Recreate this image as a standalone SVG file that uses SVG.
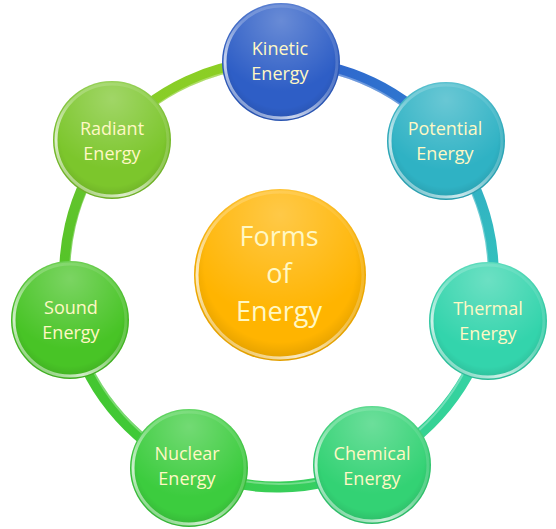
<svg xmlns="http://www.w3.org/2000/svg" width="556" height="529" viewBox="0 0 556 529">
<defs>
<style>
.lbl{font-family:"Open Sans","DejaVu Sans",sans-serif;font-size:18px;fill:#fff8c4;text-anchor:middle}
.big{font-family:"Open Sans","DejaVu Sans",sans-serif;font-size:27px;fill:#fff8c4;text-anchor:middle}
.seg{fill:none;stroke-width:11;stroke-linecap:round}
.rim{fill:none;stroke:url(#rim);stroke-width:3}
.gloss{fill:url(#gloss)}
.shade{fill:url(#shade)}
</style>
<linearGradient id="rim" x1="0.9" y1="0" x2="0.1" y2="1">
<stop offset="0" stop-color="#fff" stop-opacity="0.05"/>
<stop offset="0.45" stop-color="#fff" stop-opacity="0.25"/>
<stop offset="0.75" stop-color="#fff" stop-opacity="0.75"/>
<stop offset="1" stop-color="#fff" stop-opacity="0.2"/>
</linearGradient>
<radialGradient id="gloss" cx="0.5" cy="0.15" r="0.6">
<stop offset="0" stop-color="#fff" stop-opacity="0.28"/>
<stop offset="1" stop-color="#fff" stop-opacity="0"/>
</radialGradient>
<radialGradient id="shade" cx="0.5" cy="0.45" r="0.55">
<stop offset="0.8" stop-color="#000" stop-opacity="0"/>
<stop offset="1" stop-color="#000" stop-opacity="0.12"/>
</radialGradient>
<linearGradient id="g1" gradientUnits="userSpaceOnUse" x1="281" y1="62" x2="446" y2="141"><stop offset="0" stop-color="#2f5fcc"/><stop offset="1" stop-color="#2f7fd0"/></linearGradient>
<linearGradient id="g2" gradientUnits="userSpaceOnUse" x1="446" y1="141" x2="488" y2="321"><stop offset="0" stop-color="#30a8c8"/><stop offset="1" stop-color="#34cab8"/></linearGradient>
<linearGradient id="g3" gradientUnits="userSpaceOnUse" x1="488" y1="321" x2="371" y2="465"><stop offset="0" stop-color="#34d2b0"/><stop offset="1" stop-color="#34d284"/></linearGradient>
<linearGradient id="g4" gradientUnits="userSpaceOnUse" x1="371" y1="465" x2="189" y2="468"><stop offset="0" stop-color="#34d070"/><stop offset="1" stop-color="#3ccc40"/></linearGradient>
<linearGradient id="g5" gradientUnits="userSpaceOnUse" x1="189" y1="468" x2="70" y2="320"><stop offset="0" stop-color="#3ccc3c"/><stop offset="1" stop-color="#48c42c"/></linearGradient>
<linearGradient id="g6" gradientUnits="userSpaceOnUse" x1="70" y1="320" x2="112" y2="140"><stop offset="0" stop-color="#4cc428"/><stop offset="1" stop-color="#6cc42c"/></linearGradient>
<linearGradient id="g7" gradientUnits="userSpaceOnUse" x1="112" y1="140" x2="281" y2="62"><stop offset="0" stop-color="#84cc2c"/><stop offset="1" stop-color="#90d020"/></linearGradient>
</defs>
<rect width="556" height="529" fill="#fff"/>
<g id="connectors">
<path class="seg" stroke="url(#g1)" d="M281 62 A212 212 0 0 1 446 141"/>
<path class="seg" stroke="url(#g2)" d="M446 141 A212 212 0 0 1 488 321"/>
<path class="seg" stroke="url(#g3)" d="M488 321 A212 212 0 0 1 371 465"/>
<path class="seg" stroke="url(#g4)" d="M371 465 A212 212 0 0 1 189 468"/>
<path class="seg" stroke="url(#g5)" d="M189 468 A212 212 0 0 1 70 320"/>
<path class="seg" stroke="url(#g6)" d="M70 320 A212 212 0 0 1 112 140"/>
<path class="seg" stroke="url(#g7)" d="M112 140 A212 212 0 0 1 281 62"/>
<circle cx="279" cy="275" r="209" fill="none" stroke="#fff" stroke-opacity="0.3" stroke-width="2"/>
</g>
<g id="center">
<circle cx="280" cy="275" r="86" fill="#ffb400"/>
<circle cx="280" cy="275" r="86" class="gloss"/>
<circle cx="280" cy="275" r="86" class="shade"/>
<circle cx="280" cy="275" r="83" class="rim"/>
<text class="big" x="279" y="246">Forms</text>
<text class="big" x="279" y="283">of</text>
<text class="big" x="279" y="321">Energy</text>
</g>
<g id="kinetic">
<circle cx="281" cy="62" r="59" fill="#2e5ec6"/>
<circle cx="281" cy="62" r="59" class="gloss"/>
<circle cx="281" cy="62" r="59" class="shade"/>
<circle cx="281" cy="62" r="56" class="rim"/>
<text class="lbl" x="280" y="55">Kinetic</text>
<text class="lbl" x="280" y="80">Energy</text>
</g>
<g id="potential">
<circle cx="446" cy="141" r="59" fill="#2fb2c4"/>
<circle cx="446" cy="141" r="59" class="gloss"/>
<circle cx="446" cy="141" r="59" class="shade"/>
<circle cx="446" cy="141" r="56" class="rim"/>
<text class="lbl" x="445" y="135">Potential</text>
<text class="lbl" x="445" y="160">Energy</text>
</g>
<g id="thermal">
<circle cx="488" cy="321" r="59" fill="#33d4ac"/>
<circle cx="488" cy="321" r="59" class="gloss"/>
<circle cx="488" cy="321" r="59" class="shade"/>
<circle cx="488" cy="321" r="56" class="rim"/>
<text class="lbl" x="488" y="315">Thermal</text>
<text class="lbl" x="488" y="340">Energy</text>
</g>
<g id="chemical">
<circle cx="372" cy="465" r="59" fill="#33d274"/>
<circle cx="372" cy="465" r="59" class="gloss"/>
<circle cx="372" cy="465" r="59" class="shade"/>
<circle cx="372" cy="465" r="56" class="rim"/>
<text class="lbl" x="372" y="460">Chemical</text>
<text class="lbl" x="372" y="485">Energy</text>
</g>
<g id="nuclear">
<circle cx="189" cy="468" r="59" fill="#3ccc3e"/>
<circle cx="189" cy="468" r="59" class="gloss"/>
<circle cx="189" cy="468" r="59" class="shade"/>
<circle cx="189" cy="468" r="56" class="rim"/>
<text class="lbl" x="187" y="460">Nuclear</text>
<text class="lbl" x="187" y="485">Energy</text>
</g>
<g id="sound">
<circle cx="70" cy="320" r="59" fill="#48c426"/>
<circle cx="70" cy="320" r="59" class="gloss"/>
<circle cx="70" cy="320" r="59" class="shade"/>
<circle cx="70" cy="320" r="56" class="rim"/>
<text class="lbl" x="71" y="314">Sound</text>
<text class="lbl" x="71" y="339">Energy</text>
</g>
<g id="radiant">
<circle cx="112" cy="140" r="59" fill="#7cc62c"/>
<circle cx="112" cy="140" r="59" class="gloss"/>
<circle cx="112" cy="140" r="59" class="shade"/>
<circle cx="112" cy="140" r="56" class="rim"/>
<text class="lbl" x="112" y="135">Radiant</text>
<text class="lbl" x="112" y="160">Energy</text>
</g>
</svg>
